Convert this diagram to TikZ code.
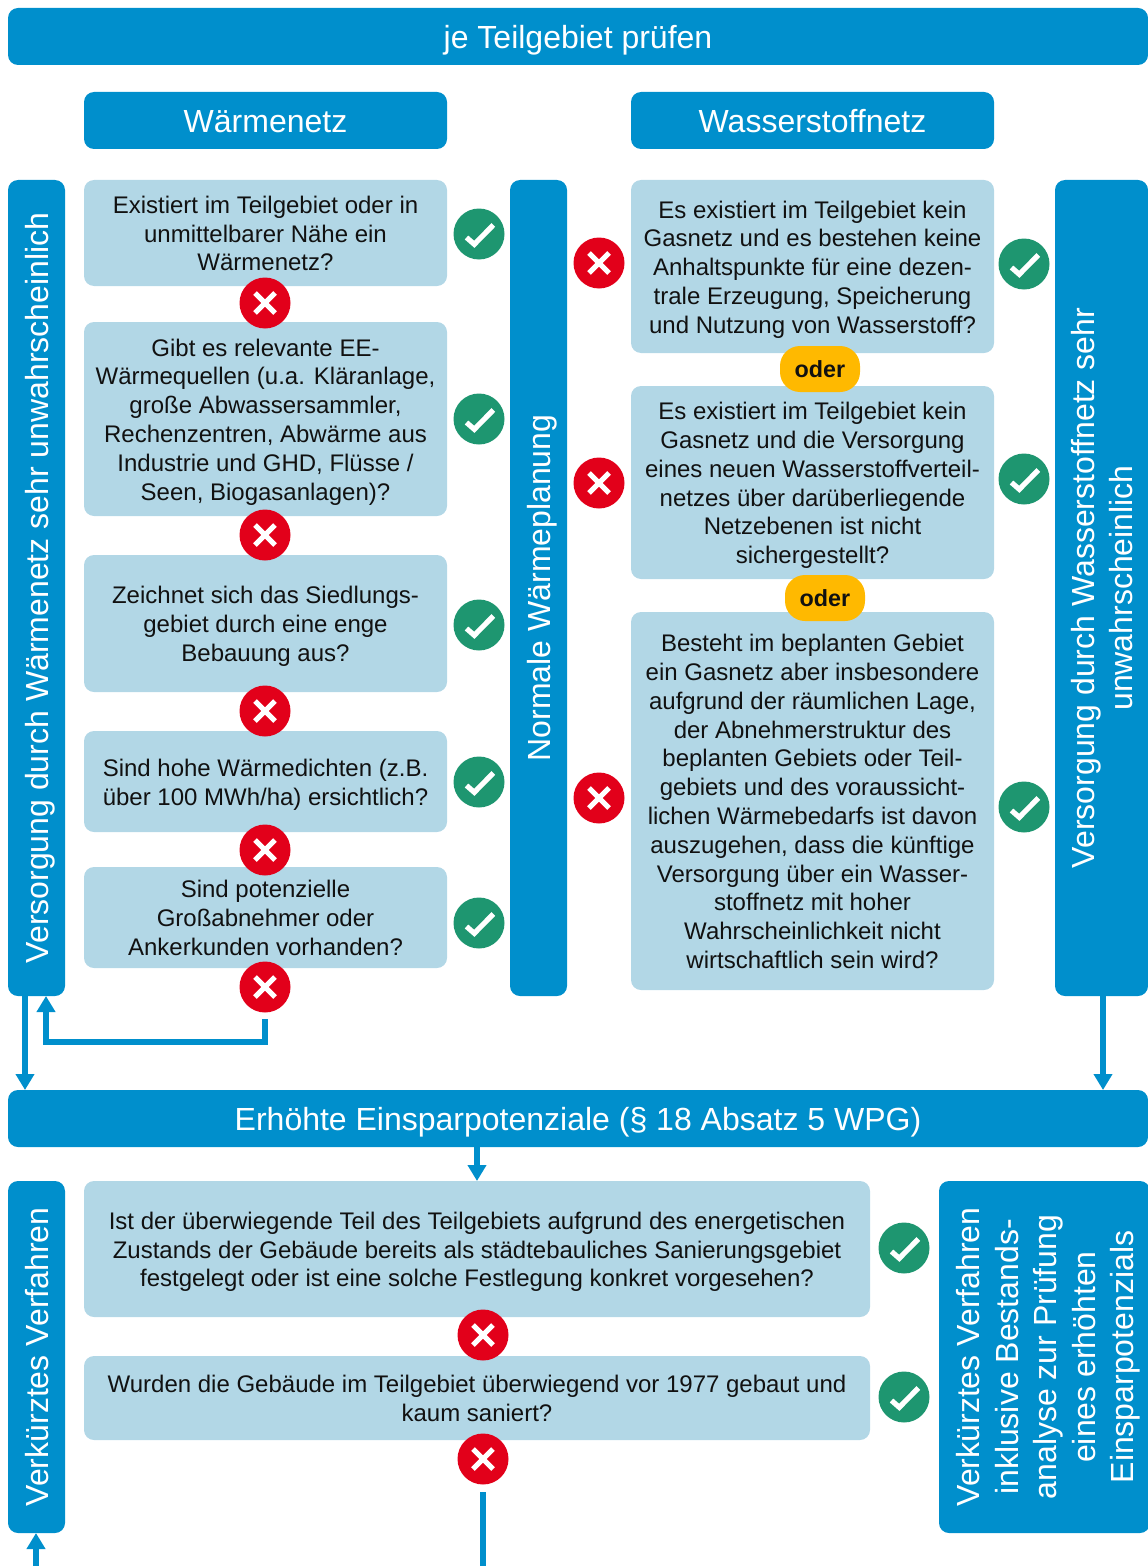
\documentclass[tikz,border=0pt]{standalone}
\usepackage{fontspec}
\setmainfont{Liberation Sans}
\usetikzlibrary{arrows.meta}
\definecolor{hblue}{HTML}{008FCC}
\definecolor{lblue}{HTML}{B2D7E6}
\definecolor{okgreen}{HTML}{1E9670}
\definecolor{nored}{HTML}{E2001A}
\definecolor{oryellow}{HTML}{FFB900}
\definecolor{bodytext}{HTML}{111111}
\newcommand{\bxbody}[1]{\rule{0pt}{1.09em}#1\rule[-.33em]{0pt}{0pt}}
\newcommand{\bx}[7][]{%
  \pgfmathsetmacro{\bxcx}{(#3+#5)/2}\pgfmathsetmacro{\bxcy}{(#4+#6)/2}%
  \pgfmathsetlengthmacro{\bxw}{(#5-#3)*0.75pt}\pgfmathsetlengthmacro{\bxh}{(#6-#4)*0.75pt}%
  \node[#1,minimum width=\bxw,minimum height=\bxh] (#2) at (\bxcx,\bxcy) {\bxbody{#7}};}
\newcommand{\rbx}[7][]{%
  \pgfmathsetmacro{\bxcx}{(#3+#5)/2}\pgfmathsetmacro{\bxcy}{(#4+#6)/2}%
  \pgfmathsetlengthmacro{\bxw}{(#5-#3)*0.75pt}\pgfmathsetlengthmacro{\bxh}{(#6-#4)*0.75pt}%
  \node[#1,rotate=90,minimum width=\bxh,minimum height=\bxw] (#2) at (\bxcx,\bxcy) {\bxbody{#7}};}
\tikzset{
  base/.style={inner sep=0pt,outer sep=0pt,rounded corners=7.5pt,align=center},
  head/.style={base,fill=hblue,text=white,font=\fontsize{24}{28.8}\selectfont},
  question/.style={base,fill=lblue,text=bodytext,font=\fontsize{18}{21.6}\selectfont},
  yes/.style={circle,fill=okgreen,minimum size=38.25pt,inner sep=0pt,outer sep=0pt,
    path picture={\draw[white,line width=3.9pt,shift={(path picture bounding box.center)}]
      (-12.5,3.5) -- (-4.7,10.3) -- (14.3,-9);}},
  no/.style={circle,fill=nored,minimum size=38.25pt,inner sep=0pt,outer sep=0pt,
    path picture={\draw[white,line width=3.9pt,shift={(path picture bounding box.center)}]
      (-10,-10) -- (10,10) (-10,10) -- (10,-10);}},
  orpill/.style={base,fill=oryellow,text=bodytext,rounded corners=15pt,minimum width=60pt,minimum height=34.5pt,
    font=\fontsize{17.5}{21}\selectfont\bfseries},
  arr/.style={draw=hblue,line width=4.4pt,-{Triangle[length=12pt,width=13.5pt]}},
  plain/.style={draw=hblue,line width=4.2pt},
}
\begin{document}
\begin{tikzpicture}[x=0.75pt,y=-0.75pt]
\useasboundingbox (0,0) rectangle (1148,1566);
\clip (0,0) rectangle (1148,1566);
% headers
\bx[head]{top}{8}{8}{1148}{65}{je Teilgebiet prüfen}
\bx[head]{hw}{84}{92}{447}{149}{Wärmenetz}
\bx[head]{hh}{631}{92}{994}{149}{Wasserstoffnetz}
% panels
\rbx[head]{vl}{8}{180}{65}{996}{Versorgung durch Wärmenetz sehr unwahrscheinlich}
\rbx[head]{nw}{510}{180}{567}{996}{Normale Wärmeplanung}
\rbx[head]{vr}{1055}{180}{1148}{996}{Versorgung durch Wasserstoffnetz sehr\\unwahrscheinlich}
% left column
\bx[question]{q1}{84}{180}{447}{286}{Existiert im Teilgebiet oder in\\unmittelbarer Nähe ein\\Wärmenetz?}
\bx[question]{q2}{84}{322}{447}{516}{Gibt es relevante EE-\\Wärmequellen (u.a. Kläranlage,\\große Abwassersammler,\\Rechenzentren, Abwärme aus\\Industrie und GHD, Flüsse /\\Seen, Biogasanlagen)?}
\bx[question]{q3}{84}{555}{447}{692}{Zeichnet sich das Siedlungs-\\gebiet durch eine enge\\Bebauung aus?}
\bx[question]{q4}{84}{731}{447}{832}{Sind hohe Wärmedichten (z.B.\\über 100 MWh/ha) ersichtlich?}
\bx[question]{q5}{84}{867}{447}{968}{Sind potenzielle\\Großabnehmer oder\\Ankerkunden vorhanden?}
\node[no] (n1) at (265,303) {};
\node[no] (n2) at (265,535) {};
\node[no] (n3) at (265,711) {};
\node[no] (n4) at (265,850) {};
\node[no] (n5) at (265,987) {};
\node[yes] (y1) at (479,234) {};
\node[yes] (y2) at (479,419) {};
\node[yes] (y3) at (479,625) {};
\node[yes] (y4) at (479,782) {};
\node[yes] (y5) at (479,923) {};
% right column
\bx[question]{r1}{631}{180}{994}{353}{Es existiert im Teilgebiet kein\\Gasnetz und es bestehen keine\\Anhaltspunkte für eine dezen-\\trale Erzeugung, Speicherung\\und Nutzung von Wasserstoff?}
\bx[question]{r2}{631}{386}{994}{579}{Es existiert im Teilgebiet kein\\Gasnetz und die Versorgung\\eines neuen Wasserstoffverteil-\\netzes über darüberliegende\\Netzebenen ist nicht\\sichergestellt?}
\bx[question]{r3}{631}{612}{994}{990}{Besteht im beplanten Gebiet\\ein Gasnetz aber insbesondere\\aufgrund der räumlichen Lage,\\der Abnehmerstruktur des\\beplanten Gebiets oder Teil-\\gebiets und des voraussicht-\\lichen Wärmebedarfs ist davon\\auszugehen, dass die künftige\\Versorgung über ein Wasser-\\stoffnetz mit hoher\\Wahrscheinlichkeit nicht\\wirtschaftlich sein wird?}
\node[orpill] (o1) at (820,369) {oder};
\node[orpill] (o2) at (825,598) {oder};
\node[no] (n6) at (599,263) {};
\node[no] (n7) at (599,483) {};
\node[no] (n8) at (599,798) {};
\node[yes] (y6) at (1024,264) {};
\node[yes] (y7) at (1024,479) {};
\node[yes] (y8) at (1024,807) {};
% lower part
\bx[head]{ee}{8}{1090}{1148}{1147}{Erhöhte Einsparpotenziale (§ 18 Absatz 5 WPG)}
\rbx[head]{vk}{8}{1181}{65}{1533}{Verkürztes Verfahren}
\rbx[head]{vb}{939}{1181}{1150}{1533}{Verkürztes Verfahren\\inklusive Bestands-\\analyse zur Prüfung\\eines erhöhten\\Einsparpotenzials}
\bx[question]{q6}{84}{1181}{870}{1317}{Ist der überwiegende Teil des Teilgebiets aufgrund des energetischen\\Zustands der Gebäude bereits als städtebauliches Sanierungsgebiet\\festgelegt oder ist eine solche Festlegung konkret vorgesehen?}
\bx[question]{q7}{84}{1356}{870}{1440}{Wurden die Gebäude im Teilgebiet überwiegend vor 1977 gebaut und\\kaum saniert?}
\node[no] (n9) at (483,1335) {};
\node[no] (n10) at (483,1459) {};
\node[yes] (y9) at (904,1248) {};
\node[yes] (y10) at (904,1397) {};
% connector guides
\coordinate (xa) at (25,0);
\coordinate (xb) at (46,0);
\coordinate (xc) at (1103,0);
\coordinate (xd) at (477,0);
\coordinate (xe) at (36,0);
\coordinate (c1) at (265,1019);
\coordinate (c2) at (265,1042);
\coordinate (c3) at (46,1042);
\coordinate (c4) at (483,1492);
\coordinate (c5) at (483,1566);
\coordinate (c6) at (36,1566);
% connectors (the panels are rotated, so their west anchor is the lower edge)
\draw[arr] (vl.west -| xa) -- (ee.north -| xa);
\draw[arr] (c1) -- (c2) -- (c3) -- (vl.west -| xb);
\draw[arr] (vr.west -| xc) -- (ee.north -| xc);
\draw[arr] (ee.south -| xd) -- (q6.north -| xd);
\draw[plain] (c4) -- (c5);
\draw[arr] (c6) -- (vk.west -| xe);
\end{tikzpicture}
\end{document}
